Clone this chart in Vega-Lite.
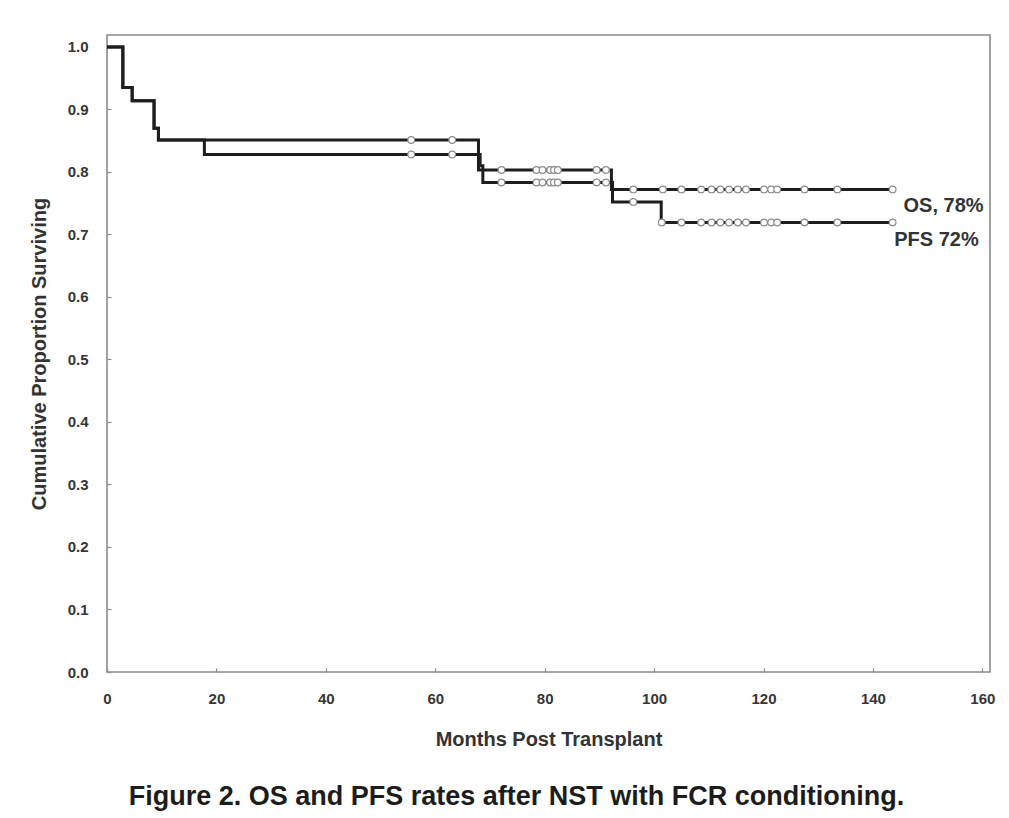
{
  "$schema": "https://vega.github.io/schema/vega-lite/v6.json",
  "autosize": "none",
  "width": 883,
  "height": 637,
  "padding": {"left": 107, "top": 35, "right": 19, "bottom": 146},
  "background": "white",
  "config": {
    "view": {"stroke": "#8a8a8a", "strokeWidth": 1.6},
    "font": "Liberation Sans",
    "axis": {
      "grid": false,
      "domain": false,
      "tickColor": "#8a8a8a",
      "tickSize": -4,
      "tickWidth": 1.2,
      "labelFont": "Liberation Sans",
      "labelFontWeight": "bold",
      "labelFontSize": 15,
      "labelColor": "#363636",
      "titleFont": "Liberation Sans",
      "titleFontWeight": "bold",
      "titleFontSize": 20,
      "titleColor": "#333333"
    }
  },
  "title": {
    "text": "Figure 2. OS and PFS rates after NST with FCR conditioning.",
    "orient": "bottom",
    "anchor": "middle",
    "frame": "group",
    "fontSize": 27,
    "fontWeight": "bold",
    "font": "Liberation Sans",
    "color": "#1c1c1c",
    "offset": 35,
    "dx": -32
  },
  "datasets": {
    "curves": [
      {"series": "OS", "t": 0, "v": 1.0},
      {"series": "OS", "t": 2.9, "v": 0.935},
      {"series": "OS", "t": 4.6, "v": 0.914},
      {"series": "OS", "t": 8.6, "v": 0.87},
      {"series": "OS", "t": 9.4, "v": 0.851},
      {"series": "OS", "t": 67.9, "v": 0.803},
      {"series": "OS", "t": 92.2, "v": 0.772},
      {"series": "OS", "t": 143.6, "v": 0.772},
      {"series": "PFS", "t": 0, "v": 1.0},
      {"series": "PFS", "t": 2.9, "v": 0.935},
      {"series": "PFS", "t": 4.6, "v": 0.914},
      {"series": "PFS", "t": 8.6, "v": 0.87},
      {"series": "PFS", "t": 9.4, "v": 0.851},
      {"series": "PFS", "t": 17.8, "v": 0.828},
      {"series": "PFS", "t": 68.2, "v": 0.81},
      {"series": "PFS", "t": 68.7, "v": 0.783},
      {"series": "PFS", "t": 92.4, "v": 0.752},
      {"series": "PFS", "t": 101.3, "v": 0.719},
      {"series": "PFS", "t": 143.6, "v": 0.719}
    ],
    "censor": [
      {"series": "OS", "t": 55.6, "v": 0.851},
      {"series": "OS", "t": 63.1, "v": 0.851},
      {"series": "OS", "t": 72.1, "v": 0.803},
      {"series": "OS", "t": 78.5, "v": 0.803},
      {"series": "OS", "t": 79.6, "v": 0.803},
      {"series": "OS", "t": 81.0, "v": 0.803},
      {"series": "OS", "t": 81.7, "v": 0.803},
      {"series": "OS", "t": 82.4, "v": 0.803},
      {"series": "OS", "t": 89.5, "v": 0.803},
      {"series": "OS", "t": 91.2, "v": 0.803},
      {"series": "OS", "t": 96.2, "v": 0.772},
      {"series": "OS", "t": 101.6, "v": 0.772},
      {"series": "OS", "t": 105.0, "v": 0.772},
      {"series": "OS", "t": 108.6, "v": 0.772},
      {"series": "OS", "t": 110.5, "v": 0.772},
      {"series": "OS", "t": 112.1, "v": 0.772},
      {"series": "OS", "t": 113.7, "v": 0.772},
      {"series": "OS", "t": 115.3, "v": 0.772},
      {"series": "OS", "t": 116.8, "v": 0.772},
      {"series": "OS", "t": 120.1, "v": 0.772},
      {"series": "OS", "t": 121.4, "v": 0.772},
      {"series": "OS", "t": 122.5, "v": 0.772},
      {"series": "OS", "t": 127.5, "v": 0.772},
      {"series": "OS", "t": 133.5, "v": 0.772},
      {"series": "OS", "t": 143.6, "v": 0.772},
      {"series": "PFS", "t": 55.6, "v": 0.828},
      {"series": "PFS", "t": 63.1, "v": 0.828},
      {"series": "PFS", "t": 72.1, "v": 0.783},
      {"series": "PFS", "t": 78.5, "v": 0.783},
      {"series": "PFS", "t": 79.6, "v": 0.783},
      {"series": "PFS", "t": 81.0, "v": 0.783},
      {"series": "PFS", "t": 81.7, "v": 0.783},
      {"series": "PFS", "t": 82.4, "v": 0.783},
      {"series": "PFS", "t": 89.5, "v": 0.783},
      {"series": "PFS", "t": 91.2, "v": 0.783},
      {"series": "PFS", "t": 96.2, "v": 0.752},
      {"series": "PFS", "t": 101.4, "v": 0.719},
      {"series": "PFS", "t": 105.0, "v": 0.719},
      {"series": "PFS", "t": 108.6, "v": 0.719},
      {"series": "PFS", "t": 110.5, "v": 0.719},
      {"series": "PFS", "t": 112.1, "v": 0.719},
      {"series": "PFS", "t": 113.7, "v": 0.719},
      {"series": "PFS", "t": 115.3, "v": 0.719},
      {"series": "PFS", "t": 116.8, "v": 0.719},
      {"series": "PFS", "t": 120.1, "v": 0.719},
      {"series": "PFS", "t": 121.4, "v": 0.719},
      {"series": "PFS", "t": 122.5, "v": 0.719},
      {"series": "PFS", "t": 127.5, "v": 0.719},
      {"series": "PFS", "t": 133.5, "v": 0.719},
      {"series": "PFS", "t": 143.6, "v": 0.719}
    ],
    "labels": [
      {"series": "OS", "label": "OS, 78%", "t": 145.6, "v": 0.772},
      {"series": "PFS", "label": "PFS  72%", "t": 143.9, "v": 0.719}
    ]
  },
  "layer": [
    {
      "data": {"name": "curves"},
      "mark": {"type": "line", "interpolate": "step-after", "color": "#1e1e1e", "strokeWidth": 3},
      "encoding": {
        "x": {
          "field": "t", "type": "quantitative",
          "scale": {"domain": [0, 161.4], "nice": false, "zero": false},
          "axis": {"title": "Months Post Transplant", "values": [0, 20, 40, 60, 80, 100, 120, 140, 160], "labelPadding": 23, "titlePadding": 23, "labelFlush": false}
        },
        "y": {
          "field": "v", "type": "quantitative",
          "scale": {"domain": [0, 1.019], "nice": false},
          "axis": {"title": "Cumulative Proportion Surviving", "values": [0, 0.1, 0.2, 0.3, 0.4, 0.5, 0.6, 0.7, 0.8, 0.9, 1.0], "format": ".1f", "labelPadding": 23, "titlePadding": 18}
        },
        "detail": {"field": "series"}
      }
    },
    {
      "data": {"name": "censor"},
      "mark": {"type": "point", "shape": "circle", "filled": false, "fill": "white", "fillOpacity": 1, "stroke": "#8c8c8c", "strokeWidth": 1.2, "size": 45, "opacity": 1},
      "encoding": {
        "x": {"field": "t", "type": "quantitative"},
        "y": {"field": "v", "type": "quantitative"}
      }
    },
    {
      "data": {"name": "labels"},
      "mark": {"type": "text", "align": "left", "baseline": "middle", "fontSize": 20, "fontWeight": "bold", "font": "Liberation Sans", "color": "#333333"},
      "encoding": {
        "x": {"field": "t", "type": "quantitative"},
        "y": {"field": "v", "type": "quantitative"},
        "text": {"field": "label"},
        "yOffset": {"condition": {"test": "datum.series === 'OS'", "value": 0}, "value": 17}
      }
    }
  ]
}
